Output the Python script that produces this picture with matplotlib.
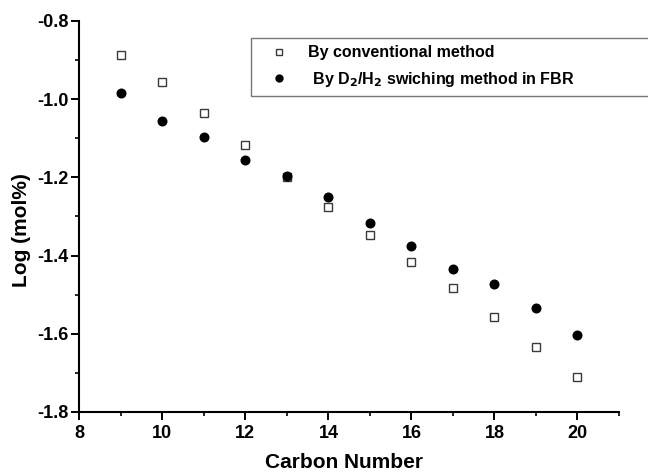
import matplotlib
matplotlib.use("Agg")
import matplotlib.pyplot as plt
from matplotlib.ticker import MultipleLocator

# values
carbon = [9, 10, 11, 12, 13, 14, 15, 16, 17, 18, 19, 20]
conventional = [-0.888, -0.957, -1.036, -1.116, -1.198, -1.276,
                -1.347, -1.416, -1.484, -1.558, -1.634, -1.711]
switching = [-0.983, -1.056, -1.097, -1.156, -1.196, -1.251,
             -1.317, -1.375, -1.434, -1.472, -1.535, -1.602]
x_ticks = [8, 10, 12, 14, 16, 18, 20]
y_ticks = [-1.8, -1.6, -1.4, -1.2, -1.0, -0.8]

plt.rcParams['font.family'] = ['Liberation Sans', 'DejaVu Sans']
plt.rcParams['font.weight'] = 'bold'
plt.rcParams['mathtext.default'] = 'bf'

W, H = 648, 472
fig = plt.figure(figsize=(W / 100, H / 100), dpi=100)
# axes box in pixels: left 79, right 619, top 21, bottom 412
ax = fig.add_axes([79.3 / W, 1 - 412 / H, (619 - 79.3) / W, 391 / H])

ax.plot(carbon, conventional, linestyle='none', marker='s', markersize=5.6,
        markerfacecolor='white', markeredgecolor='#3a3a3a', markeredgewidth=1.0,
        label='By conventional method')
ax.plot(carbon, switching, linestyle='none', marker='o', markersize=6.2,
        color='black', label=' By D$_2$/H$_2$ swiching method in FBR')

ax.set_xlim(8, 21)
ax.set_ylim(-1.8, -0.8)
ax.set_xticks(x_ticks)
ax.set_xticklabels([str(v) for v in x_ticks])
ax.set_yticks(y_ticks)
ax.set_yticklabels([f"{v:.1f}" for v in y_ticks])
ax.xaxis.set_minor_locator(MultipleLocator(1))
ax.yaxis.set_minor_locator(MultipleLocator(0.1))

for s in ['top', 'right']:
    ax.spines[s].set_visible(False)
for s in ['left', 'bottom']:
    ax.spines[s].set_linewidth(1.5)

ax.tick_params(which='major', length=6, width=1.4, labelsize=13, direction='out')
ax.tick_params(axis='y', which='major', pad=1.5)
ax.tick_params(which='minor', length=3.2, width=1.2, direction='out')

# axis titles placed by hand
fig.text(344 / W, 1 - 471.5 / H, 'Carbon Number', fontsize=15, fontweight='bold',
         ha='center', va='bottom')
fig.text(22 / W, 1 - 230 / H, 'Log (mol%)', fontsize=15, fontweight='bold',
         ha='center', va='center', rotation=90)

leg = fig.legend(loc='upper left', bbox_to_anchor=(251 / W, 1 - 38.3 / H, 0.8, 0.0),
                 mode='expand', borderaxespad=0, frameon=True, fancybox=False,
                 handlelength=2.6, handletextpad=0.5, borderpad=0.45,
                 labelspacing=0.6, markerscale=0.8,
                 prop={'weight': 'bold', 'size': 11.5})
leg.get_frame().set_edgecolor('#555555')
leg.get_frame().set_linewidth(1.0)

fig.savefig('out.png', dpi=100)
